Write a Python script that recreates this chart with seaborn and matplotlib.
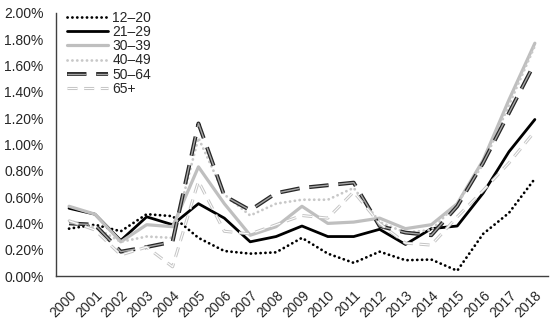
import matplotlib
matplotlib.use("Agg")
import matplotlib.pyplot as plt
import matplotlib.patheffects as pe
from matplotlib.transforms import ScaledTranslation
import seaborn as sns

sns.set_theme(style="white")
plt.rcParams["font.family"] = ["Liberation Sans", "DejaVu Sans"]

# data (percent)
years = list(range(2000, 2019))
labels = ["12–20", "21–29", "30–39", "40–49", "50–64", "65+"]
a12_20 = [0.36, 0.39, 0.34, 0.47, 0.455, 0.29, 0.19, 0.17, 0.18, 0.29, 0.17, 0.10, 0.185, 0.12, 0.125, 0.04, 0.32, 0.48, 0.74]
a21_29 = [0.515, 0.47, 0.27, 0.45, 0.39, 0.55, 0.44, 0.26, 0.30, 0.38, 0.30, 0.30, 0.355, 0.24, 0.36, 0.38, 0.63, 0.945, 1.19]
a30_39 = [0.53, 0.47, 0.26, 0.39, 0.375, 0.83, 0.55, 0.31, 0.375, 0.53, 0.40, 0.41, 0.44, 0.36, 0.39, 0.55, 0.88, 1.34, 1.77]
a40_49 = [0.42, 0.37, 0.26, 0.30, 0.29, 1.05, 0.62, 0.46, 0.55, 0.58, 0.58, 0.67, 0.41, 0.33, 0.35, 0.55, 0.85, 1.30, 1.75]
a50_64 = [0.40, 0.39, 0.185, 0.22, 0.26, 1.16, 0.61, 0.50, 0.63, 0.67, 0.69, 0.71, 0.38, 0.33, 0.31, 0.53, 0.86, 1.24, 1.62]
a65 = [0.42, 0.35, 0.16, 0.22, 0.07, 0.72, 0.34, 0.32, 0.39, 0.46, 0.44, 0.64, 0.40, 0.25, 0.235, 0.45, 0.65, 0.86, 1.10]
series = [a12_20, a21_29, a30_39, a40_49, a50_64, a65]

# styles per series
styles = [
    dict(color="black", lw=2.0, ls=(0, (0.05, 1.7)), dash_capstyle="round"),
    dict(color="black", lw=2.0, ls="-"),
    dict(color="#bfbfbf", lw=2.3, ls="-"),
    dict(color="#c8c8c8", lw=2.0, ls=(0, (0.05, 1.7)), dash_capstyle="round"),
    dict(color="#a6a6a6", lw=1.0, ls=(0, (14, 7)),
         path_effects=[pe.Stroke(linewidth=2.8, foreground="#262626"), pe.Normal()]),
    dict(color="white", lw=0.8, ls=(0, (9, 6)),
         path_effects=[pe.Stroke(linewidth=2.2, foreground="#c4c4c4"), pe.Normal()]),
]

fig = plt.figure(figsize=(5.5, 3.2), dpi=100)
ax = fig.add_axes([0.102, 0.1375, 0.894, 0.822])

for lab, vals, st in zip(labels, series, styles):
    sns.lineplot(x=years, y=vals, ax=ax, label=lab, **st)

ax.set_xlim(1999.5, 2018.5)
ax.set_ylim(0, 2.0)
ax.set_xticks(years)
ax.set_xticklabels([str(y) for y in years], rotation=45, ha="right",
                   rotation_mode="anchor", fontsize=10)
# nudge rotated labels a little to the right, as in the original
shift = ScaledTranslation(4 / 100, 0, fig.dpi_scale_trans)
for t in ax.get_xticklabels():
    t.set_transform(t.get_transform() + shift)
yt = [i * 0.2 for i in range(11)]
ax.set_yticks(yt)
ax.set_yticklabels([f"{v:.2f}%" for v in yt], fontsize=10)
ax.tick_params(axis="y", length=0, pad=9)
ax.tick_params(axis="x", length=0, pad=9)
ax.set_xlabel("")
ax.set_ylabel("")

for s in ["top", "right"]:
    ax.spines[s].set_visible(False)
for s in ["left", "bottom"]:
    ax.spines[s].set_color("#404040")
    ax.spines[s].set_linewidth(1.0)

ax.legend(loc="upper left", bbox_to_anchor=(0.01, 1.03), frameon=False,
          fontsize=10, handlelength=3.0, labelspacing=0.02,
          handletextpad=0.3, borderaxespad=0)

fig.savefig("out.png", dpi=100)
